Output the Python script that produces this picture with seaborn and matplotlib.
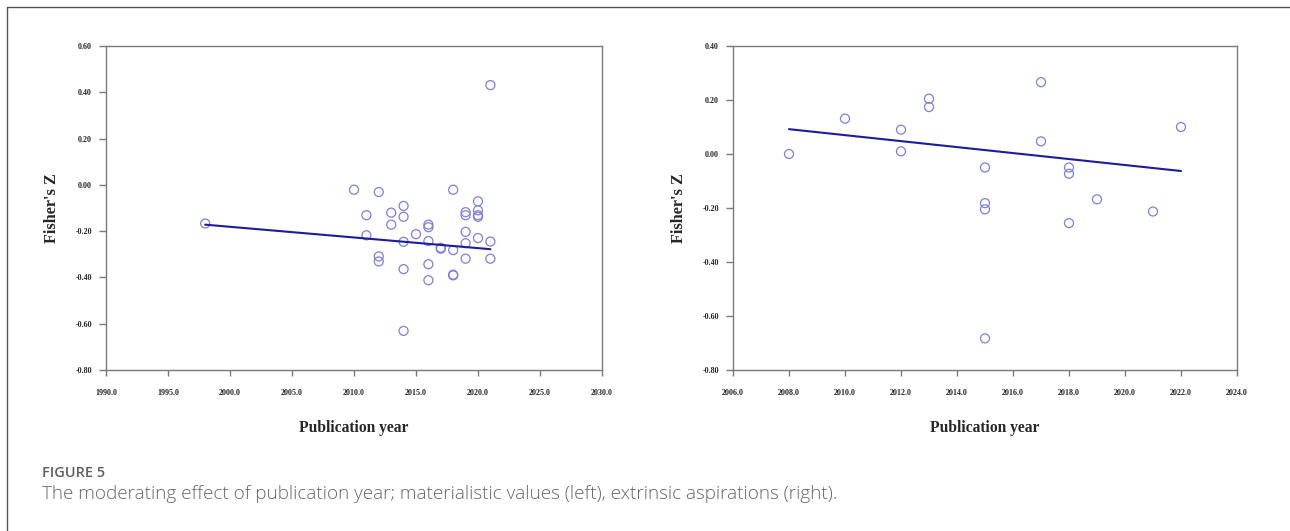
import matplotlib
matplotlib.use("Agg")
import matplotlib.pyplot as plt
import matplotlib.ticker as mticker
from matplotlib.lines import Line2D
import seaborn as sns

# dados (ano de publicação x Fisher's Z)

# materialistic values (esquerda)
mat_year = [1998, 2010, 2012, 2018, 2020, 2011, 2013, 2014, 2014, 2013,
            2019, 2019, 2020, 2020, 2020, 2016, 2016, 2011, 2015, 2019,
            2014, 2016, 2017, 2017, 2018, 2019, 2020, 2021, 2012, 2012,
            2019, 2021, 2014, 2016, 2016, 2018, 2018, 2014, 2021]
mat_z = [-0.167, -0.021, -0.031, -0.021, -0.071, -0.131, -0.120, -0.091, -0.138, -0.172,
         -0.118, -0.131, -0.110, -0.131, -0.138, -0.172, -0.183, -0.218, -0.213, -0.203,
         -0.246, -0.243, -0.272, -0.276, -0.282, -0.252, -0.230, -0.245, -0.309, -0.331,
         -0.319, -0.319, -0.364, -0.343, -0.412, -0.388, -0.391, -0.631, 0.431]
mat_fit_year = [1998, 2021]
mat_fit_z = [-0.172, -0.278]

# extrinsic aspirations (direita)
ext_year = [2008, 2010, 2012, 2012, 2013, 2013, 2015, 2015, 2015, 2015,
            2017, 2017, 2018, 2018, 2018, 2019, 2021, 2022]
ext_z = [0.000, 0.131, 0.090, 0.010, 0.205, 0.174, -0.050, -0.182, -0.205, -0.683,
         0.266, 0.047, -0.050, -0.073, -0.256, -0.168, -0.213, 0.100]
ext_fit_year = [2008, 2022]
ext_fit_z = [0.092, -0.063]

mat_xticks = [1990, 1995, 2000, 2005, 2010, 2015, 2020, 2025, 2030]
mat_yticks = [-0.8, -0.6, -0.4, -0.2, 0.0, 0.2, 0.4, 0.6]
ext_xticks = [2006, 2008, 2010, 2012, 2014, 2016, 2018, 2020, 2022, 2024]
ext_yticks = [-0.8, -0.6, -0.4, -0.2, 0.0, 0.2, 0.4]

caption_title = "FIGURE 5"
caption_text = ("The moderating effect of publication year; materialistic values (left), "
                "extrinsic aspirations (right).")

# estilo
sns.set_style("ticks")
plt.rcParams["font.family"] = ["Liberation Serif", "DejaVu Serif"]

cor_ponto = "#7f7fdc"
cor_linha = "#1c1c9c"
cor_eixo = "#7a7a7a"

fig = plt.figure(figsize=(12.9, 5.31), dpi=100)
ax1 = fig.add_axes([106 / 1290, 1 - 370 / 531, 496 / 1290, 324 / 531])
ax2 = fig.add_axes([733 / 1290, 1 - 370 / 531, 504 / 1290, 324 / 531])


def desenha(ax, anos, zs, fit_x, fit_y, xticks, yticks, ylab_x):
    sns.scatterplot(x=anos, y=zs, ax=ax, s=42, marker="o",
                    facecolor="none", edgecolor=cor_ponto, linewidth=0.9, zorder=3)
    sns.lineplot(x=fit_x, y=fit_y, ax=ax, color=cor_linha, linewidth=1.5, zorder=4)
    ax.set_xlim(xticks[0], xticks[-1])
    ax.set_ylim(yticks[0], yticks[-1])
    ax.set_xticks(xticks)
    ax.set_yticks(yticks)
    ax.xaxis.set_major_formatter(mticker.FormatStrFormatter("%.1f"))
    ax.yaxis.set_major_formatter(mticker.FormatStrFormatter("%.2f"))
    for s in ax.spines.values():
        s.set_color(cor_eixo)
        s.set_linewidth(1.0)
    ax.tick_params(axis="x", direction="out", length=4, width=1, color=cor_eixo,
                   pad=10, labelsize=5.8)
    ax.tick_params(axis="y", direction="out", length=5, width=1, color=cor_eixo,
                   pad=5, labelsize=5.8)
    for lab in ax.get_xticklabels() + ax.get_yticklabels():
        lab.set_fontweight("bold")
    ax.set_xlabel("Publication year", fontsize=12.5, fontweight="bold", labelpad=16)
    ax.set_ylabel("Fisher's Z", fontsize=12.5, fontweight="bold")
    ax.yaxis.set_label_coords(ylab_x, 0.5)


desenha(ax1, mat_year, mat_z, mat_fit_year, mat_fit_z, mat_xticks, mat_yticks, -0.093)
desenha(ax2, ext_year, ext_z, ext_fit_year, ext_fit_z, ext_xticks, ext_yticks, -0.091)

# moldura do cartão (topo e esquerda)
fig.add_artist(Line2D([7 / 1290, 1.0], [1 - 7 / 531, 1 - 7 / 531],
                      transform=fig.transFigure, color="#555555", linewidth=1.0))
fig.add_artist(Line2D([7 / 1290, 7 / 1290], [0.0, 1 - 7 / 531],
                      transform=fig.transFigure, color="#555555", linewidth=1.0))

# legenda da figura
t_fig = fig.text(42 / 1290, 1 - 473 / 531, caption_title, family=["Open Sans", "DejaVu Sans"],
                 fontsize=10.3, fontweight="semibold", color="#5f5f5f", va="center", ha="left")
t_cap = fig.text(42 / 1290, 1 - 494 / 531, caption_text, family=["Open Sans", "DejaVu Sans"],
                 fontsize=12.9, fontweight="light", color="#666666", va="center", ha="left")

# ajusta o tamanho das fontes para a largura (px) medida na imagem original
fig.canvas.draw()
renderer = fig.canvas.get_renderer()
ajustes = [(t_fig, 63), (t_cap, 797),
           (ax1.xaxis.label, 109), (ax2.xaxis.label, 109),
           (ax1.yaxis.label, 70), (ax2.yaxis.label, 70)]
for txt, alvo in ajustes:
    bb = txt.get_window_extent(renderer)
    medida = max(bb.width, bb.height)
    txt.set_fontsize(txt.get_fontsize() * alvo / medida)

plt.savefig("out.png", dpi=100)
